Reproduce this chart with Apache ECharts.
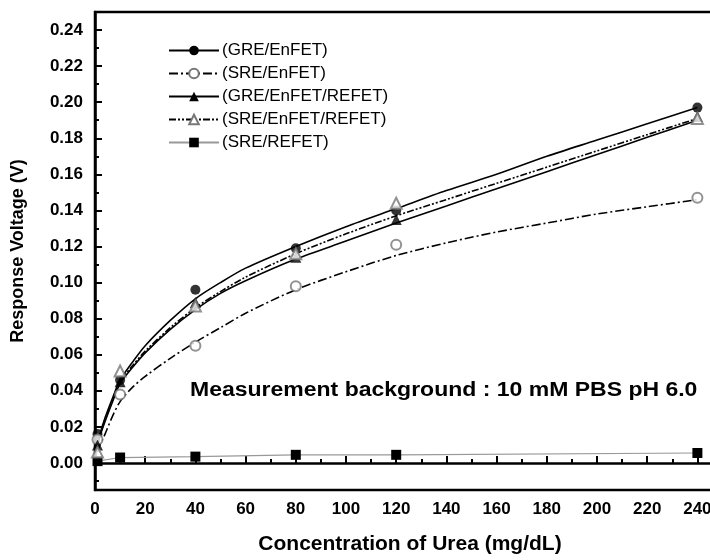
<!DOCTYPE html>
<html>
<head>
<meta charset="utf-8">
<script src="https://cdn.jsdelivr.net/npm/echarts@6/dist/echarts.min.js"></script>
<style>
  html, body { margin: 0; padding: 0; background: #fff; }
  #chart { width: 710px; height: 560px; }
</style>
</head>
<body>
<div id="chart"></div>
<script>
// measured points
const pointX = [1, 10, 40, 80, 120, 240];
const greEnfet = [0.016, 0.046, 0.096, 0.119, 0.140, 0.197];
const sreEnfet = [0.013, 0.038, 0.065, 0.098, 0.121, 0.147];
const greEnfetRefet = [0.010, 0.045, 0.089, 0.114, 0.135, 0.192];
const sreEnfetRefet = [0.006, 0.051, 0.087, 0.116, 0.144, 0.191];
const sreRefet = [0.001, 0.003, 0.0035, 0.0045, 0.0045, 0.0055];

// fitted curves
const curveX = [1, 2, 4, 7, 10, 15, 20, 30, 40, 50, 60, 80, 100, 120, 140, 160, 180, 200, 220, 240];
const fitGreEnfet = [0.010, 0.016, 0.025, 0.036, 0.046, 0.056, 0.065, 0.079, 0.091, 0.100, 0.108, 0.120, 0.131, 0.141, 0.151, 0.160, 0.170, 0.179, 0.188, 0.197];
const fitSreEnfet = [0.006, 0.010, 0.016, 0.026, 0.034, 0.042, 0.048, 0.058, 0.067, 0.075, 0.083, 0.096, 0.106, 0.115, 0.122, 0.128, 0.133, 0.138, 0.142, 0.146];
const fitGreEnfetRefet = [0.009, 0.015, 0.023, 0.034, 0.044, 0.053, 0.061, 0.074, 0.085, 0.094, 0.101, 0.113, 0.123, 0.133, 0.1425, 0.152, 0.1615, 0.171, 0.1805, 0.190];
const fitSreEnfetRefet = [0.009, 0.015, 0.024, 0.035, 0.045, 0.054, 0.062, 0.075, 0.086, 0.095, 0.103, 0.116, 0.127, 0.137, 0.146, 0.155, 0.164, 0.173, 0.182, 0.191];

const names = ['(GRE/EnFET)', '(SRE/EnFET)', '(GRE/EnFET/REFET)', '(SRE/EnFET/REFET)', '(SRE/REFET)'];
const note = 'Measurement background : 10 mM PBS pH 6.0';

const zip = (xs, ys) => xs.map((x, i) => [x, ys[i]]);
const font = 'Arial, "Liberation Sans", sans-serif';

const groups = [
  { name: names[0], fit: fitGreEnfet, pts: greEnfet, symbol: 'circle', color: '#000', dash: 'solid', size: 10 },
  { name: names[1], fit: fitSreEnfet, pts: sreEnfet, symbol: 'emptyCircle', color: '#777', dash: [9, 3, 2, 3], size: 10 },
  { name: names[2], fit: fitGreEnfetRefet, pts: greEnfetRefet, symbol: 'triangle', color: '#000', dash: 'solid', size: 11 },
  { name: names[3], fit: fitSreEnfetRefet, pts: sreEnfetRefet, symbol: 'emptyTriangle', color: '#777', dash: [7, 2, 2, 2, 2, 2], size: 11 },
];

const series = [];
groups.forEach(g => {
  series.push({
    name: g.name,
    type: 'line',
    data: zip(curveX, g.fit),
    smooth: 0.3,
    showSymbol: false,
    symbol: g.symbol,
    itemStyle: { color: g.color },
    lineStyle: { color: '#000', width: 1.6, type: g.dash },
    z: 2,
    silent: true
  });
});
groups.forEach(g => {
  series.push({
    name: g.name + ' pts',
    type: 'scatter',
    data: zip(pointX, g.pts),
    symbol: g.symbol,
    symbolSize: g.size,
    itemStyle: { color: g.color, borderWidth: 1 },
    z: 4
  });
});
series.push({
  name: names[4],
  type: 'line',
  data: zip(pointX, sreRefet),
  symbol: 'rect',
  symbolSize: 10,
  showAllSymbol: true,
  itemStyle: { color: '#000' },
  lineStyle: { color: '#999', width: 1.2 },
  z: 3
});

const chart = echarts.init(document.getElementById('chart'), null, { renderer: 'canvas' });
chart.setOption({
  animation: false,
  backgroundColor: '#fff',
  grid: {
    left: 95, top: 12, width: 630, height: 478,
    outerBoundsMode: 'none',
    show: true, borderColor: '#000', borderWidth: 2.5,
    containLabel: false
  },
  legend: {
    data: names,
    orient: 'vertical',
    left: 163, top: 37,
    itemWidth: 50, itemHeight: 12, itemGap: 6,
    textStyle: { fontFamily: font, fontSize: 17, color: '#000', padding: [0, 0, 0, -2] }
  },
  xAxis: {
    type: 'value',
    min: 0, max: 251, interval: 20,
    name: 'Concentration of Urea (mg/dL)',
    nameLocation: 'middle', nameGap: 44,
    nameTextStyle: { fontFamily: font, fontSize: 21, fontWeight: 'bold', color: '#000' },
    axisLine: { show: true, lineStyle: { color: '#000', width: 2.5 } },
    axisTick: { show: true, inside: true, length: 7, lineStyle: { color: '#000', width: 2 } },
    minorTick: { show: true, splitNumber: 2, length: 4, lineStyle: { color: '#000', width: 2 } },
    axisLabel: {
      fontFamily: font, fontSize: 17, fontWeight: 'bold', color: '#000', margin: 11,
      formatter: v => (v > 240.5 ? '' : String(v))
    },
    splitLine: { show: false }
  },
  yAxis: {
    type: 'value',
    min: -0.015, max: 0.25,
    minInterval: 0.02, maxInterval: 0.02,
    name: 'Response Voltage (V)',
    nameLocation: 'middle', nameGap: 68,
    nameTextStyle: { fontFamily: font, fontSize: 18, fontWeight: 'bold', color: '#000' },
    axisLine: { show: true, lineStyle: { color: '#000', width: 2.5 } },
    axisTick: { show: true, inside: true, length: 7, lineStyle: { color: '#000', width: 2 } },
    minorTick: { show: true, splitNumber: 2, length: 4, lineStyle: { color: '#000', width: 2 } },
    axisLabel: {
      fontFamily: font, fontSize: 17, fontWeight: 'bold', color: '#000', margin: 12,
      formatter: v => (v < -0.001 || v > 0.2405 ? '' : v.toFixed(2))
    },
    splitLine: { show: false }
  },
  graphic: [{
    type: 'text',
    left: 190, top: 380,
    scaleX: 1.15,
    style: { text: note, fontFamily: font, fontSize: 20, fontWeight: 'bold', fill: '#000' }
  }],
  series: series
});
</script>
</body>
</html>
